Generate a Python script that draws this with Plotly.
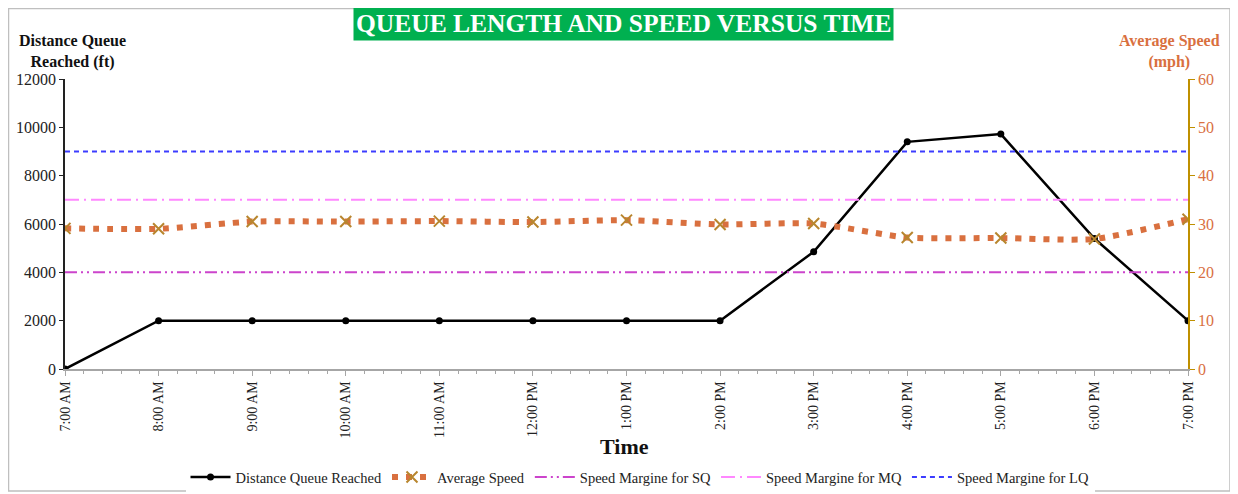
import plotly.graph_objects as go

times = ["7:00 AM", "8:00 AM", "9:00 AM", "10:00 AM", "11:00 AM", "12:00 PM", "1:00 PM",
         "2:00 PM", "3:00 PM", "4:00 PM", "5:00 PM", "6:00 PM", "7:00 PM"]
distance_ft = [0, 2000, 2000, 2000, 2000, 2000, 2000, 2000, 4850, 9400, 9720, 5400, 2000]
speed_mph = [29.1, 29.0, 30.5, 30.5, 30.6, 30.4, 30.8, 29.9, 30.1, 27.2, 27.1, 26.9, 31.0]
margin_names = ["Speed Margine for SQ", "Speed Margine for MQ", "Speed Margine for LQ"]
margin_values = [20, 35, 45]

FONT = "Liberation Serif"
xpos = list(range(len(times)))

fig = go.Figure()
fig.add_trace(go.Scatter(
    x=xpos, y=distance_ft, name="Distance Queue Reached", mode="lines+markers",
    line=dict(color="black", width=2.5), marker=dict(color="black", size=7, symbol="circle"),
))
fig.add_trace(go.Scatter(
    x=xpos, y=speed_mph, name="Average Speed", mode="lines+markers", yaxis="y2",
    line=dict(color="#D9703F", width=6, dash="6px,8px", shape="spline", smoothing=0.6),
    marker=dict(color="#B8862E", size=11, symbol="x-thin-open", line=dict(color="#B8862E", width=2)),
))
styles = [
    dict(color="#CC44CC", width=2, dash="12px,4px,2px,4px,2px,4px"),
    dict(color="#FF88FF", width=2, dash="14px,5px,2px,5px"),
    dict(color="#3C3CFF", width=2, dash="5px,4px"),
]
for nm, v, st in zip(margin_names, margin_values, styles):
    fig.add_trace(go.Scatter(
        x=[xpos[0], xpos[-1]], y=[v, v], name=nm, mode="lines", yaxis="y2", line=st,
    ))

# page body has an 8px default margin, so work in shifted coordinates
OFF = 8
W, H = 1238 - OFF, 494 - OFF
L, R, T, B = 65 - OFF, 1188 - OFF, 79 - OFF, 369 - OFF
pw, ph = R - L, B - T

def px_x(x):
    return (x - OFF - L) / pw

def px_y(y):
    return (B - (y - OFF)) / ph

fig.update_layout(
    width=W, height=H,
    margin=dict(l=L, r=W - R, t=T, b=H - B, autoexpand=False),
    paper_bgcolor="white", plot_bgcolor="white",
    font=dict(family=FONT, size=14, color="#222"),
    showlegend=True,
    legend=dict(orientation="h", x=px_x(640), xanchor="center", y=px_y(477), yanchor="middle",
                font=dict(family=FONT, size=14.5, color="#222"), itemwidth=40,
                tracegroupgap=0),
    xaxis=dict(
        range=[0, 12], tickmode="array", tickvals=xpos, ticktext=times, tickangle=-90,
        automargin=False,
        showgrid=False, zeroline=False, showline=True, linecolor="#A6A6A6", linewidth=1.5,
        ticks="outside", tickcolor="#A6A6A6", ticklen=5,
        tickfont=dict(family=FONT, size=14, color="#222"),
        minor=dict(dtick=0.2, ticks="outside", ticklen=3, tickcolor="#A6A6A6", showgrid=False),
    ),
    yaxis=dict(
        range=[0, 12000], dtick=2000, tickformat="d", showgrid=False, zeroline=False,
        automargin=False,
        showline=True, linecolor="#222", linewidth=1.5,
        ticks="outside", tickcolor="#222", ticklen=4,
        tickfont=dict(family=FONT, size=16, color="#222"),
    ),
    yaxis2=dict(
        range=[0, 60], dtick=10, overlaying="y", side="right", showgrid=False, zeroline=False,
        automargin=False,
        showline=True, linecolor="#BF9000", linewidth=1.5,
        ticks="outside", tickcolor="#BF9000", ticklen=5,
        tickfont=dict(family=FONT, size=16, color="#D9703F"),
    ),
)

def note(text, x, y, size, color, **kw):
    fig.add_annotation(
        x=px_x(x), y=px_y(y), xref="paper", yref="paper", showarrow=False,
        xanchor="center", yanchor="middle", text=text,
        font=dict(family=FONT, size=size, color=color), **kw,
    )

note("<b>QUEUE LENGTH AND SPEED VERSUS TIME</b>", 623, 23, 25.5, "white",
     bgcolor="#00B050", borderpad=2)
note("<b>Distance Queue<br>Reached (ft)</b>", 72, 52, 16, "#111")
note("<b>Average Speed<br>(mph)</b>", 1169, 52, 16, "#D9703F")
note("<b>Time</b>", 624, 446, 22, "#111")

fig.add_shape(
    type="rect", xref="paper", yref="paper",
    x0=px_x(8.5), x1=px_x(1230), y0=px_y(491), y1=px_y(8.5),
    line=dict(color="#BFBFBF", width=1.5), fillcolor="rgba(0,0,0,0)", layer="below",
)

fig.write_html("out.html")
